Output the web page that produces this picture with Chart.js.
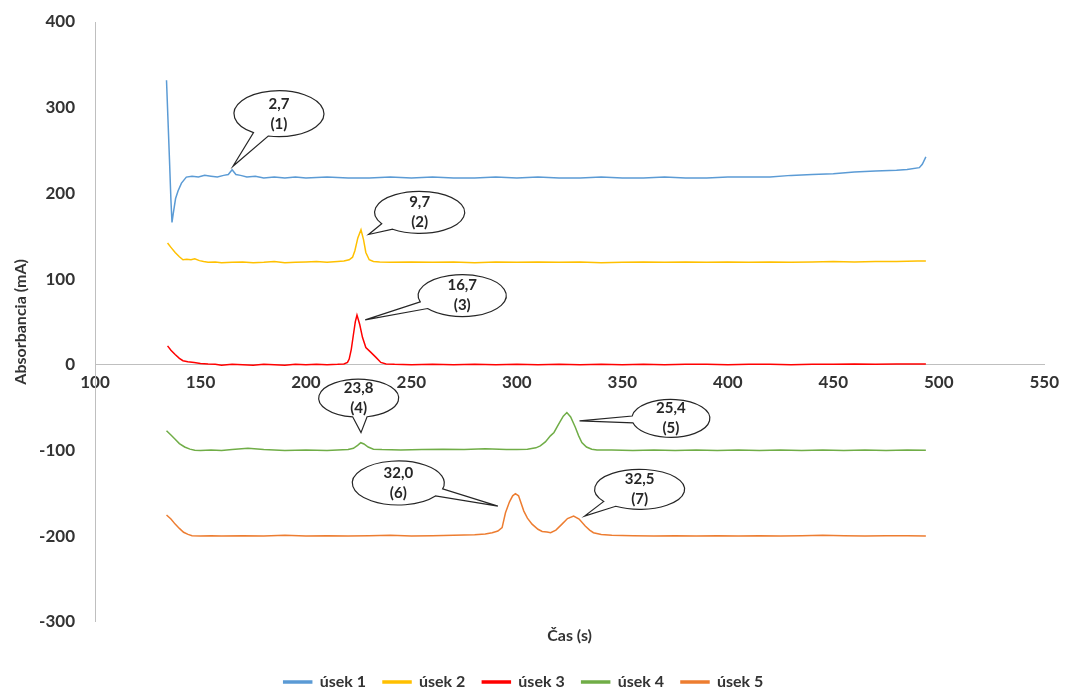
<!DOCTYPE html>
<html>
<head>
<meta charset="utf-8">
<script src="https://cdn.jsdelivr.net/npm/chart.js@4/dist/chart.umd.min.js"></script>
<style>
  html, body { margin: 0; padding: 0; background: #fff; }
  #wrap { width: 1067px; height: 691px; }
</style>
</head>
<body>
<div id="wrap"><canvas id="chart"></canvas></div>
<script>
// ---------- data ----------
const seriesNames = ["úsek 1", "úsek 2", "úsek 3", "úsek 4", "úsek 5"];
const seriesColors = ["#5B9BD5", "#FFC000", "#FF0000", "#70AD47", "#ED7D31"];

const t1 = [133.9, 134.6, 135.3, 136.0, 136.5, 137.2, 138.2, 139.4, 141.0, 143.3, 146, 149, 152, 155, 158, 161, 163.2, 165.0, 166.8, 169, 172, 176, 180, 185, 190, 195, 200, 210, 220, 230, 240, 250, 260, 270, 280, 290, 300, 310, 320, 330, 340, 350, 360, 370, 380, 390, 400, 410, 420, 430, 440, 450, 460, 470, 480, 485, 490.8, 492.2, 493.9];
const y1 = [332, 286, 240, 192, 166, 178, 194, 203, 212, 219, 220, 219, 221, 220, 219, 221, 222, 227.5, 222, 221, 219, 220, 218, 219, 218, 219, 218, 219, 218, 218, 219, 218, 219, 218, 218, 219, 218, 219, 218, 218, 219, 218, 218, 219, 218, 218, 219, 219, 219, 221, 222, 223, 225, 226, 227, 228, 230, 234, 242.5];

const t2 = [134.4, 136, 138, 140, 141.7, 143.5, 145.5, 147.3, 149.5, 151.5, 153.6, 157, 160, 165, 170, 175, 180, 185, 190, 195, 200, 205, 210, 215, 218, 220.5, 222.1, 223.2, 224.6, 226.1, 227.3, 228.4, 230, 232, 235, 240, 250, 260, 270, 280, 290, 300, 310, 320, 330, 340, 350, 360, 370, 380, 390, 400, 410, 420, 430, 440, 450, 460, 470, 480, 490, 493.9];
const y2 = [142, 137, 131, 126, 122.5, 123, 122.5, 123.6, 121.5, 120.5, 119.7, 120, 119, 119.5, 120, 119, 119.5, 120.5, 119, 119.5, 120, 120.5, 119.5, 120.5, 121, 122.5, 125.5, 133, 148, 157.5, 146, 131, 122.5, 120.5, 120, 119.5, 120, 119.5, 120, 119, 120, 119.5, 120, 119.5, 120, 119, 119.5, 120, 119.5, 120, 119.5, 120, 119.5, 120, 119.5, 120, 120.5, 120, 120.5, 120.5, 121, 121];

const t3 = [134.4, 136, 138, 140, 141.7, 144, 147, 150, 153.6, 157, 160, 165, 170, 175, 180, 185, 190, 195, 200, 205, 210, 215, 218, 219.7, 220.5, 221.5, 222.5, 223.4, 224.2, 225.5, 226.8, 228.4, 230.8, 233.2, 235.5, 238, 242, 250, 260, 270, 280, 290, 300, 310, 320, 330, 340, 350, 360, 370, 380, 390, 400, 410, 420, 430, 440, 450, 460, 470, 480, 490, 493.9];
const y3 = [22, 17, 12, 7.5, 4.7, 3.5, 2.5, 1.5, 0.8, 0.5, -0.5, 0.5, 0, -0.5, 0.5, 0, -0.5, 0.5, 0, 0.5, 0, 0.5, 1, 2.7, 6.6, 18, 35, 50, 58, 47, 32, 20, 14.4, 8.6, 2.7, 1, 0.5, 0, 0.5, 0, 0.5, 0, 0.5, 0, 0.5, 0, 0.5, 0, 0.5, 0, 0.5, 0.5, 0, 0.5, 0.5, 0, 0.5, 0.5, 1, 0.5, 1, 1, 1];

const t4 = [133.9, 136, 138, 140, 142.5, 145, 147.3, 150, 155, 160, 165, 172.5, 180, 190, 200, 210, 215, 220, 222.5, 224.5, 226, 227.5, 229.5, 232, 236, 245, 255, 265, 275, 285, 295, 300, 305, 309, 311.1, 313.5, 315.9, 317.6, 319.8, 322, 323.7, 325.5, 327.7, 329.3, 330.8, 333, 335.5, 338, 345, 355, 365, 375, 385, 395, 405, 415, 425, 435, 445, 455, 465, 475, 485, 493.9];
const y4 = [-77, -82, -87, -92, -96, -98.5, -99.8, -100, -99.5, -100, -99, -97.5, -99, -100, -99.5, -100, -99.5, -99, -97.5, -94, -91, -92.5, -96, -98.5, -99, -99.5, -99, -98.5, -99, -98, -99, -99, -98.5, -97, -94.7, -90, -83, -79, -69.4, -60, -55.8, -61, -73, -83, -90.8, -96, -98.6, -99.5, -99.5, -100, -99.5, -100, -99.5, -100, -99.5, -100, -99.5, -100, -99.5, -100, -99.5, -100, -99.5, -99.8];

const t5 = [133.9, 136, 138, 140, 142, 144.1, 146, 150, 155, 160, 170, 180, 190, 200, 210, 220, 230, 240, 250, 260, 270, 280, 285, 288.3, 291, 293, 294.6, 296.5, 298, 299.3, 300.8, 303.3, 305, 307.2, 310, 312, 314.3, 316, 318.5, 321.4, 324, 326.9, 329.5, 332.4, 334.5, 336.3, 340, 345, 355, 365, 375, 385, 395, 405, 415, 425, 435, 445, 455, 465, 475, 485, 493.9];
const y5 = [-175.4, -180, -186, -191, -195.5, -198, -199.5, -200, -199.5, -200, -199.5, -200, -199, -200, -199.5, -200, -199.5, -199, -200, -199.5, -199, -198.5, -197.5, -196, -194, -190, -172.7, -160, -153, -150.5, -153, -170.8, -179, -186, -192, -194.5, -195.3, -196, -193, -186, -179.5, -176.6, -180, -188.3, -193, -196, -198, -199, -199.5, -200, -199.5, -200, -199.5, -200, -199.5, -200, -199.5, -199, -199.5, -200, -199.5, -199.5, -200];

const times = [t1, t2, t3, t4, t5];
const values = [y1, y2, y3, y4, y5];

// callout bubbles: label lines, tip (data coords), bubble centre (data coords)
const calloutText = [["2,7", "(1)"], ["9,7", "(2)"], ["16,7", "(3)"], ["23,8", "(4)"], ["25,4", "(5)"], ["32,0", "(6)"], ["32,5", "(7)"]];
const calloutTip = [[165.4, 231.6], [229.7, 152], [228.1, 52.3], [226.1, -79.2], [329.7, -65.5], [291, -165], [332.1, -176.6]];
const calloutAt = [[187.2, 293], [253.9, 177.8], [274.1, 80.7], [225.0, -39.0], [373.0, -62.6], [243.8, -138], [358.2, -145.4]];
const calloutSize = [[45, 23], [45, 21], [44, 21], [40, 19], [39, 19], [46, 22], [45, 20]];

const FONT = "Lato, 'Open Sans', sans-serif";
const TXT = "#333333";

// ---------- callout plugin ----------
const calloutPlugin = {
  id: "callouts",
  afterDraw(chart) {
    const { ctx, scales: { x, y } } = chart;
    ctx.save();
    calloutText.forEach((lines, i) => {
      const cx = x.getPixelForValue(calloutAt[i][0]);
      const cy = y.getPixelForValue(calloutAt[i][1]);
      const tx = x.getPixelForValue(calloutTip[i][0]);
      const ty = y.getPixelForValue(calloutTip[i][1]);
      const [rx, ry] = calloutSize[i];
      const a = Math.atan2((ty - cy) / ry, (tx - cx) / rx);
      const d = 0.18;
      ctx.beginPath();
      ctx.ellipse(cx, cy, rx, ry, 0, a + d, a - d + Math.PI * 2);
      ctx.lineTo(tx, ty);
      ctx.closePath();
      ctx.fillStyle = "#fff";
      ctx.fill();
      ctx.lineWidth = 1.2;
      ctx.strokeStyle = "#262626";
      ctx.stroke();
      ctx.fillStyle = "#262626";
      ctx.font = "bold 15px " + FONT;
      ctx.textAlign = "center";
      ctx.textBaseline = "middle";
      ctx.fillText(lines[0], cx, cy - 10);
      ctx.fillText(lines[1], cx, cy + 10);
    });
    ctx.restore();
  }
};

// ---------- chart ----------
const datasets = seriesNames.map((name, i) => ({
  label: name,
  data: times[i].map((t, k) => ({ x: t, y: values[i][k] })),
  borderColor: seriesColors[i],
  backgroundColor: seriesColors[i],
  borderWidth: 1.5,
  pointRadius: 0,
  tension: 0
}));

new Chart(document.getElementById("chart"), {
  type: "line",
  data: { datasets },
  plugins: [calloutPlugin],
  options: {
    responsive: true,
    maintainAspectRatio: false,
    animation: false,
    layout: { padding: { top: 22, right: 20, left: 0, bottom: -9 } },
    scales: {
      x: {
        type: "linear",
        position: { y: 0 },
        min: 100, max: 550,
        grid: { display: false, drawTicks: false },
        border: { display: true, color: "#bfbfbf", width: 1 },
        ticks: { stepSize: 50, padding: 8, color: TXT, font: { family: FONT, size: 17, weight: "bold" } }
      },
      y: {
        min: -300, max: 400,
        grid: { display: false, drawTicks: false },
        border: { display: true, color: "#bfbfbf", width: 1 },
        ticks: { stepSize: 100, padding: 20, color: TXT, font: { family: FONT, size: 17, weight: "bold" } },
        title: { display: true, text: "Absorbancia (mA)", color: TXT, padding: { top: 11, bottom: 0 }, font: { family: FONT, size: 16, weight: "bold" } },
        afterFit(s) { s.width = 95; s.paddingTop = 0; s.paddingBottom = 0; }
      }
    },
    plugins: {
      title: {
        display: true, text: "Čas (s)", position: "bottom", weight: 500, fullSize: false,
        color: TXT, padding: { top: 4, bottom: 12 },
        font: { family: FONT, size: 16, weight: "bold" }
      },
      legend: {
        position: "bottom",
        labels: { boxWidth: 28, boxHeight: 2, padding: 17, color: TXT, font: { family: FONT, size: 16, weight: "bold" } }
      },
      tooltip: { enabled: false }
    }
  }
});
</script>
</body>
</html>
